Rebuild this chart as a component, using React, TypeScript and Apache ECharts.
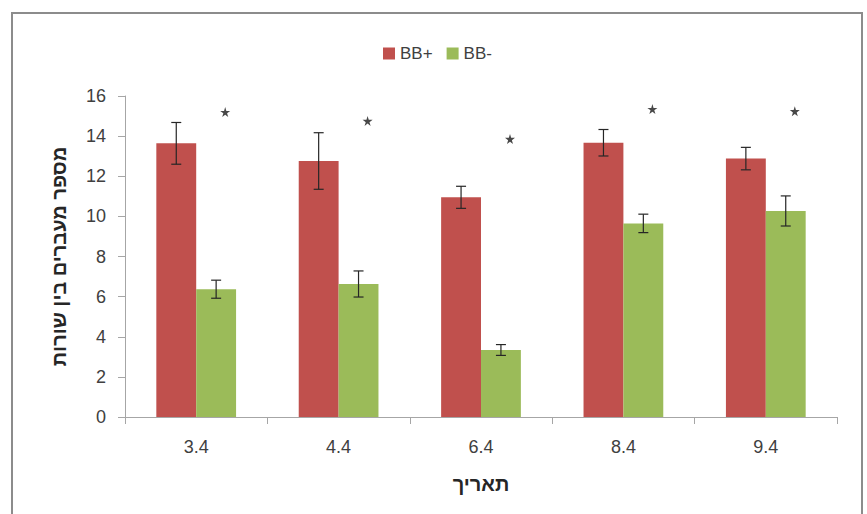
import React, { useEffect, useRef } from "react";
import * as echarts from "echarts";

const categories = ["3.4", "4.4", "6.4", "8.4", "9.4"];
const bbPlus = [13.64, 12.76, 10.95, 13.67, 12.88];
const bbPlusErr = [1.04, 1.41, 0.55, 0.66, 0.56];
const bbMinus = [6.37, 6.63, 3.34, 9.65, 10.27];
const bbMinusErr = [0.45, 0.65, 0.27, 0.46, 0.75];
const starHeights = [15.2, 14.76, 13.86, 15.35, 15.24];
const yTicks = { min: 0, max: 16, interval: 2 };

const FONT = "'Liberation Sans', 'DejaVu Sans', Arial, sans-serif";
const BAR_FRAC = 0.28;

const STAR =
  "path://M50,0 L61,35 L98,35 L68,57 L79,91 L50,70 L21,91 L32,57 L2,35 L39,35 Z";

function errSeries(values: number[], errs: number[], side: number) {
  return {
    type: "custom",
    silent: true,
    z: 5,
    data: values.map((v, i) => [i, v, errs[i]]),
    renderItem: (params: any, api: any) => {
      const i = api.value(0);
      const v = api.value(1);
      const e = api.value(2);
      const bw = api.size([1, 0])[0] * BAR_FRAC;
      const cx = api.coord([i, v])[0] + (side * bw) / 2;
      const top = api.coord([i, v + e])[1];
      const bot = api.coord([i, v - e])[1];
      const cap = 5;
      const style = { stroke: "#262626", lineWidth: 1.2 };
      return {
        type: "group",
        children: [
          { type: "line", shape: { x1: cx, y1: top, x2: cx, y2: bot }, style },
          { type: "line", shape: { x1: cx - cap, y1: top, x2: cx + cap, y2: top }, style },
          { type: "line", shape: { x1: cx - cap, y1: bot, x2: cx + cap, y2: bot }, style },
        ],
      };
    },
  };
}

export default function App() {
  const ref = useRef<HTMLDivElement>(null);
  useEffect(() => {
    if (!ref.current) return;
    const chart = echarts.init(ref.current, undefined, { renderer: "svg" });
    chart.setOption({
      animation: false,
      backgroundColor: "#ffffff",
      textStyle: { fontFamily: FONT },
      graphic: [
        {
          type: "rect",
          shape: { x: 12, y: 13, width: 850, height: 520 },
          style: { fill: "none", stroke: "#8c8c8c", lineWidth: 2 },
          z: 100,
        },
      ],
      legend: {
        left: 378,
        top: 40,
        itemWidth: 12,
        itemHeight: 12,
        itemGap: 14,
        textStyle: { fontFamily: FONT, fontSize: 17, color: "#404040" },
        data: [
          { name: "BB+", icon: "rect" },
          { name: "BB-", icon: "rect" },
        ],
      },
      grid: { left: 125, right: 30, top: 96, bottom: 97 },
      xAxis: {
        type: "category",
        data: categories,
        name: "תאריך",
        nameLocation: "middle",
        nameGap: 57,
        nameTextStyle: { fontFamily: FONT, fontSize: 20, fontWeight: "bold", color: "#262626" },
        axisLine: { lineStyle: { color: "#a6a6a6", width: 1 } },
        axisTick: { show: true, length: 7, lineStyle: { color: "#a6a6a6" } },
        axisLabel: { fontFamily: FONT, fontSize: 18, color: "#404040", margin: 21 },
      },
      yAxis: {
        type: "value",
        min: yTicks.min,
        max: yTicks.max,
        interval: yTicks.interval,
        name: "מספר מעברים בין שורות",
        nameLocation: "middle",
        nameGap: 56,
        nameTextStyle: { fontFamily: FONT, fontSize: 20, fontWeight: "bold", color: "#262626" },
        axisLine: { show: true, lineStyle: { color: "#a6a6a6", width: 1 } },
        axisTick: { show: true, length: 7, lineStyle: { color: "#a6a6a6" } },
        axisLabel: { fontFamily: FONT, fontSize: 18, color: "#404040", margin: 19 },
        splitLine: { show: false },
      },
      series: [
        {
          name: "BB+",
          type: "bar",
          data: bbPlus,
          barWidth: "28%",
          barGap: "0%",
          itemStyle: { color: "#C0504D" },
        },
        {
          name: "BB-",
          type: "bar",
          data: bbMinus,
          barWidth: "28%",
          barGap: "0%",
          itemStyle: { color: "#9BBB59" },
        },
        errSeries(bbPlus, bbPlusErr, -1),
        errSeries(bbMinus, bbMinusErr, 1),
        {
          type: "scatter",
          data: starHeights,
          symbol: STAR,
          symbolSize: 10,
          symbolOffset: [29, 0],
          itemStyle: { color: "#1a1a1a" },
          silent: true,
          z: 6,
        },
      ],
    });
    return () => chart.dispose();
  }, []);
  return (
    <div
      ref={ref}
      style={{ position: "fixed", left: 0, top: 0, width: 867, height: 514 }}
    />
  );
}
